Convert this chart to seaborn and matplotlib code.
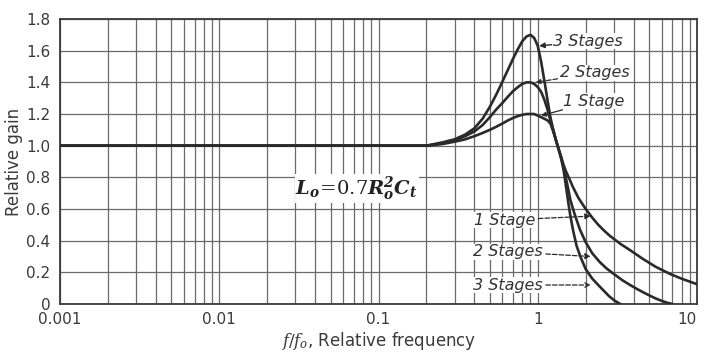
import pandas as pd
import numpy as np
import matplotlib
matplotlib.use('Agg')
import matplotlib.pyplot as plt
import matplotlib.ticker as mticker
import seaborn as sns

# Relative gain vs relative frequency
f_one = [0.001, 0.1, 0.2, 0.25, 0.3, 0.35, 0.4, 0.45, 0.5, 0.55, 0.6, 0.65, 0.7, 0.75, 0.8, 0.85,
         0.9, 0.95, 1.0, 1.05, 1.1, 1.15, 1.2, 1.25, 1.3, 1.35, 1.4, 1.45, 1.5, 1.58, 1.66, 1.8,
         2.0, 2.2, 2.4, 2.6, 2.84, 3.3, 3.8, 4.57, 5.5, 6.77, 8.0, 10.0]
g_one = [1.0, 1.0, 1.0, 1.01, 1.025, 1.04, 1.06, 1.08, 1.10, 1.12, 1.14, 1.16, 1.175, 1.187, 1.195, 1.20,
         1.20, 1.20, 1.19, 1.18, 1.17, 1.16, 1.14, 1.09, 1.035, 0.98, 0.93, 0.88, 0.84, 0.79, 0.74, 0.67,
         0.60, 0.545, 0.50, 0.465, 0.43, 0.38, 0.34, 0.285, 0.235, 0.19, 0.16, 0.125]

f_two = [0.001, 0.1, 0.2, 0.25, 0.3, 0.35, 0.4, 0.45, 0.5, 0.55, 0.6, 0.65, 0.7, 0.75, 0.8, 0.85,
         0.9, 0.95, 1.0, 1.05, 1.1, 1.15, 1.2, 1.25, 1.3, 1.35, 1.4, 1.45, 1.5, 1.55, 1.6, 1.7,
         1.84, 2.0, 2.2, 2.45, 2.7, 3.0, 3.4, 3.8, 4.2, 4.57, 5.0, 5.5, 6.0, 6.5, 7.0]
g_two = [1.0, 1.0, 1.0, 1.015, 1.035, 1.06, 1.09, 1.13, 1.18, 1.23, 1.27, 1.31, 1.345, 1.37, 1.39, 1.40,
         1.40, 1.39, 1.37, 1.34, 1.29, 1.23, 1.16, 1.10, 1.035, 0.98, 0.93, 0.87, 0.80, 0.73, 0.66, 0.57,
         0.47, 0.39, 0.32, 0.265, 0.225, 0.19, 0.15, 0.12, 0.095, 0.075, 0.055, 0.035, 0.02, 0.008, 0.0]

f_three = [0.001, 0.1, 0.2, 0.25, 0.3, 0.35, 0.4, 0.45, 0.5, 0.55, 0.6, 0.65, 0.7, 0.75, 0.8, 0.85,
           0.9, 0.95, 1.0, 1.05, 1.1, 1.15, 1.2, 1.25, 1.3, 1.35, 1.4, 1.45, 1.5, 1.55, 1.6, 1.67,
           1.75, 1.85, 2.0, 2.2, 2.45, 2.65, 2.8, 3.05, 3.3]
g_three = [1.0, 1.0, 1.0, 1.02, 1.04, 1.07, 1.11, 1.17, 1.245, 1.325, 1.405, 1.48, 1.55, 1.61, 1.66, 1.69,
           1.70, 1.68, 1.63, 1.53, 1.41, 1.29, 1.18, 1.10, 1.035, 0.98, 0.92, 0.85, 0.75, 0.65, 0.56, 0.46,
           0.37, 0.30, 0.22, 0.16, 0.11, 0.075, 0.05, 0.02, 0.0]

x_ticks = [0.001, 0.01, 0.1, 1, 10]
x_labels = ['0.001', '0.01', '0.1', '1', '10']
y_ticks = [0, 0.2, 0.4, 0.6, 0.8, 1.0, 1.2, 1.4, 1.6, 1.8]
y_labels = ['0', '0.2', '0.4', '0.6', '0.8', '1.0', '1.2', '1.4', '1.6', '1.8']

df = pd.concat([
    pd.DataFrame({'f': f_one, 'gain': g_one, 'stages': '1 Stage'}),
    pd.DataFrame({'f': f_two, 'gain': g_two, 'stages': '2 Stages'}),
    pd.DataFrame({'f': f_three, 'gain': g_three, 'stages': '3 Stages'}),
])

sns.set_style('white')
plt.rcParams['font.family'] = ['DejaVu Sans']

fig = plt.figure(figsize=(7.05, 3.54), dpi=100)
ax = fig.add_axes([0.0851, 0.1412, 0.9036, 0.8051])

ink = '#2a2a2a'
sns.lineplot(data=df, x='f', y='gain', hue='stages', palette=[ink, ink, ink],
             linewidth=1.9, legend=False, ax=ax, zorder=3)

ax.set_xscale('log')
ax.set_xlim(0.001, 10)
ax.set_ylim(0, 1.8)
ax.set_xticks(x_ticks)
ax.set_xticklabels(x_labels)
ax.xaxis.set_minor_locator(mticker.LogLocator(base=10, subs=np.arange(2, 10)))
ax.xaxis.set_minor_formatter(mticker.NullFormatter())
ax.set_yticks(y_ticks)
ax.set_yticklabels(y_labels)
ax.tick_params(which='both', length=0, labelsize=11, colors='#3a3a3a')
ax.tick_params(axis='x', pad=6)
ax.tick_params(axis='y', pad=7)
ax.get_xticklabels()[-1].set_ha('right')

ax.grid(True, which='both', axis='x', color='#6a6a6a', linewidth=0.9)
ax.grid(True, which='major', axis='y', color='#6a6a6a', linewidth=0.9)
for s in ax.spines.values():
    s.set_color('#3a3a3a')
    s.set_linewidth(1.3)

ax.set_ylabel('Relative gain', fontsize=12, color='#3a3a3a', labelpad=2)
ax.set_xlabel(r'$f/f_o$, Relative frequency', fontsize=12, color='#3a3a3a', labelpad=2,
              math_fontfamily='dejavuserif')

box = dict(facecolor='white', edgecolor='none', pad=0.5)
lab = dict(fontsize=11.5, style='italic', color='#333333', va='center', zorder=4)

# upper labels
ax.annotate('3 Stages', xy=(1.02, 1.63), xytext=(1.24, 1.66), ha='left', bbox=box,
            arrowprops=dict(arrowstyle='-|>', color=ink, lw=1.0, mutation_scale=8,
                            shrinkA=0, shrinkB=0), **lab)
ax.annotate('2 Stages', xy=(0.97, 1.40), xytext=(1.37, 1.46), ha='left', bbox=box,
            arrowprops=dict(arrowstyle='-|>', color=ink, lw=0.9, ls='--', mutation_scale=7,
                            shrinkA=1, shrinkB=0), **lab)
ax.annotate('1 Stage', xy=(1.05, 1.19), xytext=(1.45, 1.28), ha='left', bbox=box,
            arrowprops=dict(arrowstyle='-|>', color=ink, lw=0.9, mutation_scale=7,
                            shrinkA=1, shrinkB=0), **lab)

# lower labels
ax.annotate('1 Stage', xy=(2.15, 0.555), xytext=(0.96, 0.53), ha='right', bbox=box,
            arrowprops=dict(arrowstyle='-|>', color=ink, lw=0.9, ls='--', mutation_scale=8,
                            shrinkA=2, shrinkB=0), **lab)
ax.annotate('2 Stages', xy=(2.15, 0.30), xytext=(1.07, 0.33), ha='right', bbox=box,
            arrowprops=dict(arrowstyle='-|>', color=ink, lw=0.9, ls='--', mutation_scale=8,
                            shrinkA=2, shrinkB=0), **lab)
ax.annotate('3 Stages', xy=(2.15, 0.12), xytext=(1.07, 0.12), ha='right', bbox=box,
            arrowprops=dict(arrowstyle='->', color=ink, lw=0.9, ls='--', mutation_scale=8,
                            shrinkA=2, shrinkB=0), **lab)

ax.text(0.073, 0.73, r'$\mathbfit{L_o}\!=\!\mathit{0.7}\mathbfit{R_o^2C_t}$', fontsize=14,
        ha='center', va='center', color='#222222', bbox=box, zorder=4,
        math_fontfamily='dejavuserif')

fig.savefig('out.png', dpi=100)
